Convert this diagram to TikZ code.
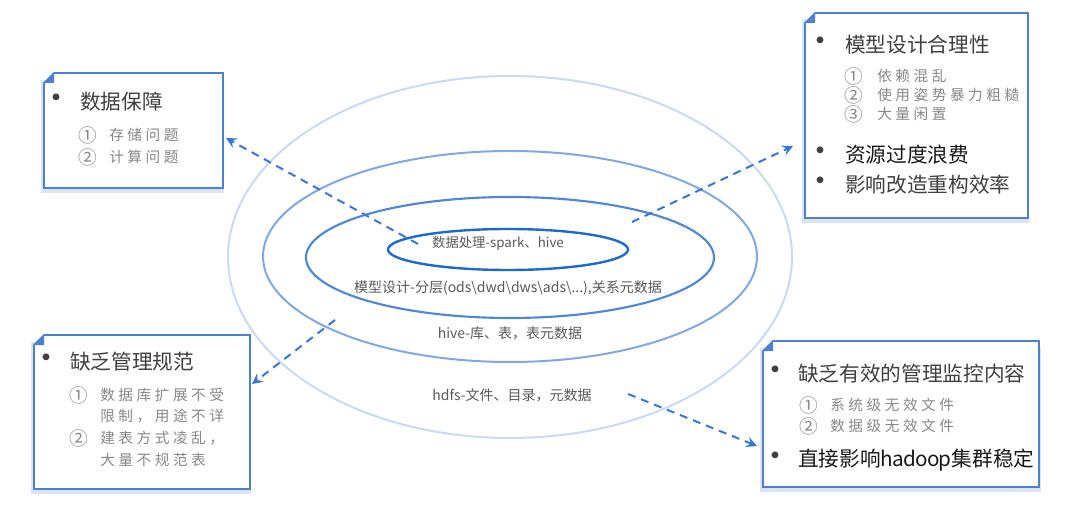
\documentclass[tikz,border=0pt]{standalone}
\usepackage{fontspec}
\setmainfont{Noto Sans CJK SC}
\usetikzlibrary{arrows.meta}

\definecolor{cardline}{HTML}{4A80D6}
\definecolor{cardshadow}{HTML}{DCE4F4}
\definecolor{ringcore}{HTML}{1C6AD0}
\definecolor{ringmodel}{HTML}{4C87DA}
\definecolor{ringhive}{HTML}{7FA8E6}
\definecolor{ringhdfs}{HTML}{C8DAF4}
\definecolor{flowblue}{HTML}{3577DA}
\definecolor{itemgray}{HTML}{404040}
\definecolor{subgray}{HTML}{888888}
\definecolor{ringtext}{HTML}{595959}

\tikzset{
  card/.style={fill=white, draw=cardline, line width=1.2pt},
  cardshade/.style={fill=cardshadow},
  fold/.style={fill=cardline},
  bulletdot/.style={inner sep=0pt, text=itemgray, font=\fontsize{24pt}{24pt}\selectfont},
  mainitem/.style={anchor=west, inner sep=0pt, text=itemgray, font=\fontsize{15.5pt}{16pt}\selectfont},
  keyitem/.style={mainitem, text=black!90},
  subnum/.style={anchor=west, inner sep=0pt, text=subgray, font=\fontsize{14pt}{14pt}\selectfont},
  subtext/.style={anchor=west, inner sep=0pt, text=subgray, font=\fontsize{11pt}{12pt}\selectfont\addfontfeatures{LetterSpace=24}},
  ringlabel/.style={inner sep=0pt, text=ringtext, font=\fontsize{10.5pt}{11pt}\selectfont},
  flow/.style={draw=flowblue, line width=1.5pt, dash pattern=on 6pt off 4.5pt,
    -{Stealth[length=8pt,width=8pt,inset=3pt]}},
}

\begin{document}
\begin{tikzpicture}[x=0.75pt,y=-0.75pt]
    \useasboundingbox (0,0) rectangle (1080,516);
    % Rings
    \draw[ringhdfs, line width=1.5pt] (510,257) ellipse [x radius=282, y radius=181];
    \draw[ringhive, line width=1.5pt] (510,256.5) ellipse [x radius=247, y radius=105.5];
    \draw[ringmodel, line width=1.6pt] (510,257.5) ellipse [x radius=204, y radius=60.5];
    \draw[ringcore, line width=1.8pt] (508,249.5) ellipse [x radius=120, y radius=20.5];
    \node[ringlabel, font=\fontsize{10pt}{11pt}\selectfont] (coreText) at (498,243) {数据处理-spark、hive};
    \node[ringlabel] (modelText) at (508,288) {模型设计-分层(ods\textbackslash dwd\textbackslash dws\textbackslash ads\textbackslash...),关系元数据};
    \node[ringlabel] (hiveText) at (510,333) {hive-库、表，表元数据};
    \node[ringlabel] (hdfsText) at (512,395) {hdfs-文件、目录，元数据};

    % Box: 数据保障
    \fill[cardshade] (41,80) rectangle (224,193);
    \draw[card] (44,83) -- (54,73) -- (223,73) -- (223,188) -- (44,188) -- cycle;
    \fill[fold] (44,83) -- (54,73) -- (54,83) -- cycle;
    \node[bulletdot] (aDot) at (56,102) {•};
    \node[mainitem] (aHead) at (80,102) {数据保障};
    \node[subnum] (aNum1) at (78,135) {①};
    \node[subtext] (aSub1) at (109,135) {存储问题};
    \node[subnum] (aNum2) at (78,157) {②};
    \node[subtext] (aSub2) at (109,157) {计算问题};

    % Box: 模型设计合理性
    \fill[cardshade] (802,20) rectangle (1029,223);
    \draw[card] (805,23) -- (815,13) -- (1028,13) -- (1028,218) -- (805,218) -- cycle;
    \fill[fold] (805,23) -- (815,13) -- (815,23) -- cycle;
    \node[bulletdot] (bDot1) at (820,45) {•};
    \node[mainitem] (bHead1) at (845,45) {模型设计合理性};
    \node[subnum] (bNum1) at (844,76) {①};
    \node[subtext] (bSub1) at (877,76) {依赖混乱};
    \node[subnum] (bNum2) at (844,95) {②};
    \node[subtext] (bSub2) at (877,95) {使用姿势暴力粗糙};
    \node[subnum] (bNum3) at (844,114) {③};
    \node[subtext] (bSub3) at (877,114) {大量闲置};
    \node[bulletdot] (bDot2) at (820,155) {•};
    \node[keyitem] (bHead2) at (845,155) {资源过度浪费};
    \node[bulletdot] (bDot3) at (820,185) {•};
    \node[mainitem] (bHead3) at (845,185) {影响改造重构效率};

    % Box: 缺乏管理规范
    \fill[cardshade] (31,342) rectangle (251,494);
    \draw[card] (34,345) -- (44,335) -- (250,335) -- (250,489) -- (34,489) -- cycle;
    \fill[fold] (34,345) -- (44,335) -- (44,345) -- cycle;
    \node[bulletdot] (cDot) at (47,362) {•};
    \node[mainitem] (cHead) at (70,362) {缺乏管理规范};
    \node[subnum] (cNum1) at (69,395) {①};
    \node[subtext] (cSub1) at (100,395) {数据库扩展不受};
    \node[subtext] (cSub1b) at (100,416) {限制，用途不详};
    \node[subnum] (cNum2) at (69,438) {②};
    \node[subtext] (cSub2) at (100,438) {建表方式凌乱，};
    \node[subtext] (cSub2b) at (100,460) {大量不规范表};

    % Box: 缺乏有效的管理监控内容
    \fill[cardshade] (760,348) rectangle (1041,492);
    \draw[card] (763,351) -- (773,341) -- (1039,341) -- (1039,487) -- (763,487) -- cycle;
    \fill[fold] (763,351) -- (773,341) -- (773,351) -- cycle;
    \node[bulletdot] (dDot1) at (775,374) {•};
    \node[mainitem] (dHead1) at (798,374) {缺乏有效的管理监控内容};
    \node[subnum] (dNum1) at (799,405) {①};
    \node[subtext] (dSub1) at (830,405) {系统级无效文件};
    \node[subnum] (dNum2) at (799,426) {②};
    \node[subtext] (dSub2) at (830,426) {数据级无效文件};
    \node[bulletdot] (dDot2) at (775,460) {•};
    \node[keyitem] (dHead2) at (798,460) {直接影响{\addfontfeatures{LetterSpace=-4}hadoop}集群稳定};

    % Arrows
    \coordinate (aStart) at (418,244);
    \coordinate (aTip) at (226,138);
    \coordinate (bStart) at (632,222);
    \coordinate (bTip) at (793,146);
    \coordinate (cStart) at (335,320);
    \coordinate (cTip) at (252,384);
    \coordinate (dStart) at (628,394);
    \coordinate (dTip) at (757,446);
    \draw[flow] (aStart) -- (aTip);
    \draw[flow] (bStart) -- (bTip);
    \draw[flow] (cStart) -- (cTip);
    \draw[flow] (dStart) -- (dTip);
\end{tikzpicture}
\end{document}
